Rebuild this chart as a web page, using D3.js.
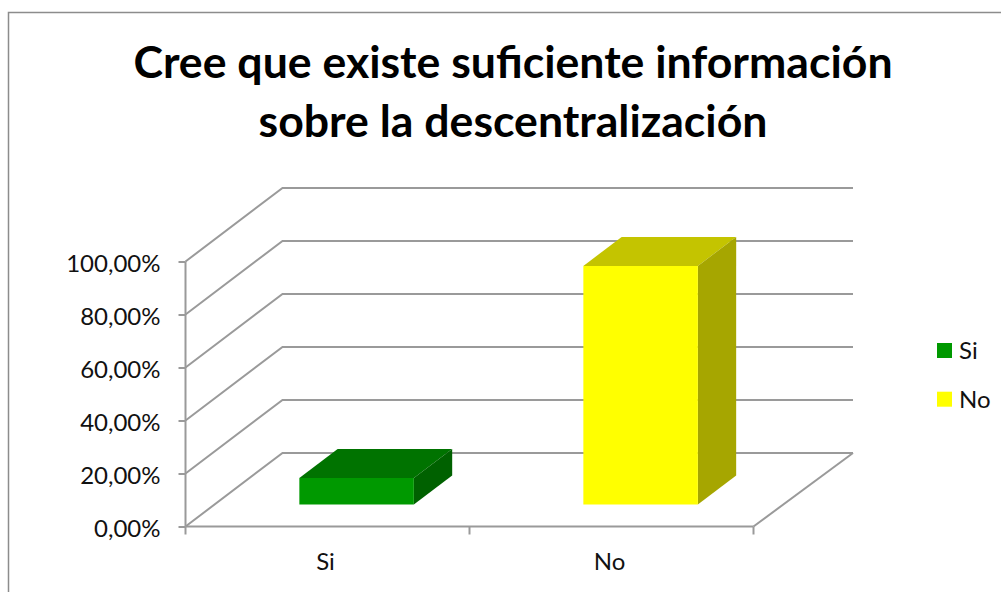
<!DOCTYPE html>
<html><head><meta charset="utf-8">
<style>html,body{margin:0;padding:0;background:#fff}svg{display:block}text{font-family:Lato,"Open Sans",sans-serif}</style>
<script src="https://cdn.jsdelivr.net/npm/d3@7"></script></head>
<body><script>
const titleLines = ["Cree que existe suficiente información", "sobre la descentralización"];
const categories = ["Si", "No"];
const values = [10, 90];
const yTicks = [0, 20, 40, 60, 80, 100];
const yTickLabels = ["0,00%", "20,00%", "40,00%", "60,00%", "80,00%", "100,00%"];
const frontColors = ["#009900", "#FFFF00"];
const topColors = ["#007300", "#C4C400"];
const sideColors = ["#006100", "#A6A600"];

const W = 1001, H = 592, gridColor = "#9a9a9a", textColor = "#111", lw = 2;
const svg = d3.select("body").append("svg").attr("width", W).attr("height", H);

const x = d3.scaleBand().domain(categories).range([185.5, 753.5]).paddingInner(0).paddingOuter(0);
const y = d3.scaleLinear().domain([0, 100]).range([526.5, 261.5]);
const zx = d3.scaleLinear().domain([0, 1]).range([0, 97]);
const zy = d3.scaleLinear().domain([0, 1]).range([0, -73.5]);
const P = (px, py, z) => [px + zx(z), py + zy(z)];
const path = pts => "M" + pts.map(p => p.join(",")).join("L") + "Z";
const open = pts => "M" + pts.map(p => p.join(",")).join("L");

// chart frame (open at the bottom and right of the crop)
svg.append("path").attr("d", open([[8.5, H], [8.5, 12.5], [W, 12.5]]))
  .attr("fill", "none").attr("stroke", "#8c8c8c").attr("stroke-width", 1.5);

// title
svg.append("g").selectAll("text").data(titleLines).join("text")
  .attr("x", 513).attr("y", (d, i) => 78 + i * 59)
  .attr("text-anchor", "middle").attr("font-size", 44.6).attr("font-weight", 700)
  .attr("fill", "#000").text(d => d);

// gridlines: side wall + back wall
const [xa, xb] = x.range();
const backRight = xb + zx(1) + 2.5;
svg.append("g").selectAll("path").data(yTicks).join("path")
  .attr("d", t => open([P(xa, y(t), 0), P(xa, y(t), 1), [backRight, y(t) + zy(1)]]))
  .attr("fill", "none").attr("stroke", gridColor).attr("stroke-width", lw);

// floor right edge
svg.append("path").attr("d", open([[xb, y(0)], [backRight, y(0) + zy(1)]]))
  .attr("fill", "none").attr("stroke", gridColor).attr("stroke-width", lw);

// axes
const yAxis = d3.axisLeft(y).tickValues(yTicks).tickSize(7).tickPadding(18)
  .tickFormat((d, i) => yTickLabels[i]);
const gy = svg.append("g").attr("transform", `translate(${xa},0)`).call(yAxis);
const xAxis = d3.axisBottom(x).tickSize(0).tickPadding(0);
const gx = svg.append("g").attr("transform", `translate(0,${y(0)})`).call(xAxis);
gx.selectAll(".tick text").attr("x", -2).attr("y", 26).attr("dy", "0.71em");
gx.selectAll(".tick line").remove();
gx.selectAll(".bound").data([...categories.map(c => x(c)), xb]).join("line").attr("class", "bound")
  .attr("x1", d => d).attr("x2", d => d).attr("y1", 0).attr("y2", 8)
  .attr("stroke", gridColor).attr("stroke-width", lw);
[gy, gx].forEach(g => {
  g.select(".domain").attr("stroke", gridColor).attr("stroke-width", lw);
  g.selectAll(".tick line").attr("stroke", gridColor).attr("stroke-width", lw);
  g.selectAll("text").attr("font-size", 24).attr("font-family", 'Lato,"Open Sans",sans-serif').attr("fill", textColor);
});
gy.selectAll(".tick text").attr("y", 2.5);
gy.select(".domain").attr("d", `M0,${y(100)}V${y(0)}`);
gx.select(".domain").attr("d", `M${xa},0H${xb}`);

// 3D bars
const barW = 114.5, z0 = 0.30, z1 = 0.695;
const bars = svg.append("g").selectAll("g").data(categories).join("g");
bars.each(function (c, i) {
  const g = d3.select(this);
  const l = x(c) + (x.bandwidth() - barW) / 2, r = l + barW;
  const t = y(values[i]), b = y(0);
  g.append("path").attr("fill", topColors[i])
    .attr("d", path([P(l, t, z0), P(r, t, z0), P(r, t, z1), P(l, t, z1)]));
  g.append("path").attr("fill", sideColors[i])
    .attr("d", path([P(r, t, z0), P(r, t, z1), P(r, b, z1), P(r, b, z0)]));
  g.append("path").attr("fill", frontColors[i])
    .attr("d", path([P(l, t, z0), P(r, t, z0), P(r, b, z0), P(l, b, z0)]));
});

// legend
const legend = svg.append("g").selectAll("g").data(categories).join("g")
  .attr("transform", (d, i) => `translate(937,${343 + i * 48.7})`);
legend.append("rect").attr("width", 15).attr("height", 15).attr("fill", (d, i) => frontColors[i]);
legend.append("text").attr("x", 22).attr("y", 16).attr("font-size", 24).attr("fill", textColor).text(d => d);
</script></body></html>
